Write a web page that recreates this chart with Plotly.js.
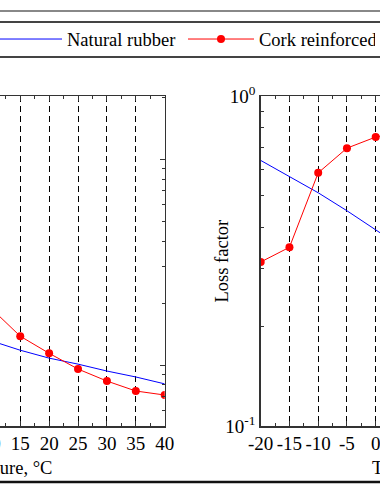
<!DOCTYPE html>
<html><head><meta charset="utf-8">
<script src="https://cdn.plot.ly/plotly-3.0.1.min.js"></script>
<style>
html,body{margin:0;padding:0;overflow:hidden;width:380px;height:500px;background:#fff}
#wrap{position:absolute;left:-200px;top:0;width:830px;height:500px}
</style>
</head><body><div id="wrap"></div>
<script>
// Temperature axis ticks (°C)
const tempTicks = [-20,-15,-10,-5,0,5,10,15,20,25,30,35,40];
const tempTickText = ["-20","-15","-10","-5","0","5","10","15","20","25","30","35","40"];
// Log axis labels
const logTicks = [0.1, 1];
const logTickText = ["10<sup>-1</sup>", "10<sup>0</sup>"];
const logMinor = [0.05,0.06,0.07,0.08,0.09,0.2,0.3,0.4,0.5,0.6,0.7,0.8,0.9,2];

// Left panel (visible part)
const leftTemp   = [10, 15, 20, 25, 30, 35, 40];
const leftRubber = [0.131, 0.118, 0.108, 0.101, 0.0935, 0.0875, 0.081];
const leftCork   = [0.188, 0.138, 0.114, 0.0956, 0.0836, 0.0748, 0.0715];

// Right panel: loss factor (visible part)
const rightTemp   = [-20, -15, -10, -5, 0, 5];
const rightRubber = [0.638, 0.569, 0.509, 0.449, 0.393, 0.344];
const rightCork   = [0.314, 0.348, 0.585, 0.695, 0.751, 0.78];

const FONT = "Liberation Serif, Times New Roman, serif";
const W = 830, H = 500;
const px = v => v / W;          // figure x px -> paper
const py = v => (H - v) / H;    // figure y px (top-down) -> paper

const blue = {color:'#0000ff', width:1};
const red  = {color:'#ff0000', width:1};
const mk   = {color:'#ff0000', size:8};

const traces = [
  {x:leftTemp, y:leftRubber, xaxis:'x', yaxis:'y', mode:'lines', line:blue, name:'Natural rubber', showlegend:true},
  {x:leftTemp, y:leftCork, xaxis:'x', yaxis:'y', mode:'lines+markers', line:red, marker:mk, name:'Cork reinforced', showlegend:true},
  {x:rightTemp, y:rightRubber, xaxis:'x2', yaxis:'y2', mode:'lines', line:blue, name:'Natural rubber', showlegend:false},
  {x:rightTemp, y:rightCork, xaxis:'x2', yaxis:'y2', mode:'lines+markers', line:red, marker:mk, name:'Cork reinforced', showlegend:false}
];

const AX = '#333';
function xax(dom){
  return {
    domain: dom, range:[-20,40], tickmode:'array', tickvals:tempTicks, ticktext:tempTickText,
    ticks:'inside', ticklen:5, tickcolor:AX, mirror:'ticks', showline:true, linecolor:AX, linewidth:1.5,
    showgrid:true, gridcolor:'#000', griddash:'6px,4px', gridwidth:1, zeroline:false,
    minor:{tickmode:'linear', tick0:-20, dtick:2.5, ticks:'inside', ticklen:3, tickcolor:AX, showgrid:false},
    tickfont:{family:FONT, size:19, color:'#000'},
    title:{text:'Temperature, °C', font:{family:FONT, size:18.5, color:'#000'}, standoff:8}
  };
}
function yax(range, anchor){
  return {
    domain:[py(426), py(96)], type:'log', range:range, anchor:anchor,
    tickmode:'array', tickvals:logTicks, ticktext:logTickText,
    ticks:'inside', ticklen:5, tickcolor:AX, mirror:'ticks', showline:true, linecolor:AX, linewidth:1.5,
    showgrid:false, zeroline:false,
    minor:{tickmode:'array', tickvals:logMinor, ticks:'inside', ticklen:3, tickcolor:AX, showgrid:false},
    tickfont:{family:FONT, size:19, color:'#000'}
  };
}

const layout = {
  width:W, height:H, margin:{l:0,r:0,t:0,b:0},
  paper_bgcolor:'#fff', plot_bgcolor:'#fff',
  font:{family:FONT, size:18.5, color:'#000'},
  xaxis: Object.assign(xax([px(18), px(364.7)]), {anchor:'y'}),
  yaxis: yax([-1.296, 0.306], 'x'),
  xaxis2: Object.assign(xax([px(460.7), px(805.7)]), {anchor:'y2'}),
  yaxis2: yax([-1, 0], 'x2'),
  showlegend:true,
  legend:{orientation:'h', x:px(191), xanchor:'left', y:py(39.5), yanchor:'middle',
          font:{family:FONT, size:18.5, color:'#000'}, bgcolor:'rgba(0,0,0,0)', borderwidth:0,
          itemwidth:66, entrywidth:111, entrywidthmode:'pixels', tracegroupgap:0},
  annotations:[
    {text:'Loss factor', xref:'paper', yref:'paper', x:px(421.5), y:py(261), xanchor:'center', yanchor:'middle',
     textangle:-90, showarrow:false, font:{family:FONT, size:18.5, color:'#000'}}
  ],
  shapes:[
    {type:'line', xref:'paper', yref:'paper', x0:0, x1:1, y0:py(11), y1:py(11), line:{color:'#888', width:2}},
    {type:'line', xref:'paper', yref:'paper', x0:0, x1:1, y0:py(22), y1:py(22), line:{color:'#444', width:2}},
    {type:'line', xref:'paper', yref:'paper', x0:0, x1:1, y0:py(57), y1:py(57), line:{color:'#444', width:2}},
    {type:'line', xref:'paper', yref:'paper', x0:0, x1:1, y0:py(482), y1:py(482), line:{color:'#111', width:2.5}}
  ]
};

Plotly.newPlot('wrap', traces, layout, {displayModeBar:false, staticPlot:true});
</script>
</body></html>
